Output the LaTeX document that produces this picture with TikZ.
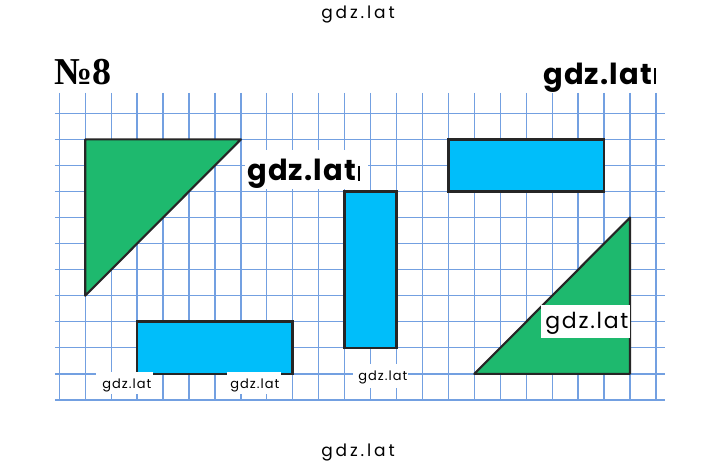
\documentclass[tikz,border=0pt]{standalone}
\usepackage{fontspec}
\usetikzlibrary{calc}
\newfontfamily\numfont{Liberation Serif}
\newfontfamily\wmfont[LetterSpace=17]{Poppins}
\newfontfamily\wmmid[LetterSpace=8]{Poppins}
\newfontfamily\wmbold[LetterSpace=4]{Poppins}
\definecolor{gridblue}{RGB}{115,160,225}
\definecolor{shapegreen}{RGB}{30,185,110}
\definecolor{shapeblue}{RGB}{0,190,250}
\tikzset{
  gridline/.style={draw=gridblue, line width=0.95pt},
  greenshape/.style={fill=shapegreen, draw=black!85, line width=1.6pt, line join=round},
  blueshape/.style={fill=shapeblue, draw=black!85, line width=2pt},
  wmlight/.style={anchor=base west, inner sep=0pt, font=\wmfont\fontsize{12.75}{15}\selectfont},
  wmbig/.style={anchor=base west, inner sep=0pt, font=\wmbold\bfseries\fontsize{21.75}{25}\selectfont},
  wmsmall/.style={anchor=base west, inner sep=0pt, font=\wmmid\fontsize{9.75}{11}\selectfont},
  wmbox/.style={fill=white, draw=none},
}
\begin{document}
\begin{tikzpicture}[x=0.75pt,y=-0.75pt]
\fill[white] (0,0) rectangle (720,466);
\useasboundingbox (0,0) rectangle (720,466);
\begin{scope}[shift={(59.3,113.3)},x=19.455pt,y=-19.545pt]
  \foreach \i in {0,...,23} \draw[gridline] (\i,-0.78) -- (\i,11.04);
  \foreach \j in {0,...,11} \draw[gridline] (-0.17,\j) -- (23.35,\j);
  \draw[greenshape] (1,1) -- (7,1) -- (1,7) -- cycle;
  \draw[blueshape] (15,1) rectangle (21,3);
  \draw[blueshape] (11,3) rectangle (13,9);
  \draw[blueshape] (3,8) rectangle (9,10);
  \draw[greenshape] (22,4) -- (22,10) -- (16,10) -- cycle;
\end{scope}
% white patches behind watermarks
\fill[wmbox] (245,150) rectangle (368,189);
\fill[wmbox] (541,305) rectangle (630,338);
\fill[wmbox] (96,372) rectangle (153,394);
\fill[wmbox] (227,372) rectangle (281,394);
\fill[wmbox] (353,364) rectangle (408,388);
% title
\node[anchor=base west, inner sep=0pt, font=\numfont\bfseries\fontsize{28.5}{30}\selectfont] (num) at (54,85) {№8};
% watermarks
\node[wmlight] (wtop) at (321,18.3) {gdz.lat};
\node[wmlight] (wbot) at (321,456) {gdz.lat};
\node[wmbig] (wtr) at (543,84.5) {gdz.lat};
\fill[black] ($(wtr.base east)+(2,0)$) rectangle +(2,-16);
\node[wmbig] (wmid) at (247,181) {gdz.lat};
\fill[black] ($(wmid.base east)+(2,0)$) rectangle +(2,-15);
\node[wmlight, font=\wmmid\fontsize{16.5}{18}\selectfont] (wrt) at (545,328.3) {gdz.lat};
\node[wmsmall] (ws1) at (102,388.5) {gdz.lat};
\node[wmsmall] (ws2) at (230,388.5) {gdz.lat};
\node[wmsmall] (ws3) at (358,380) {gdz.lat};
\end{tikzpicture}
\end{document}
